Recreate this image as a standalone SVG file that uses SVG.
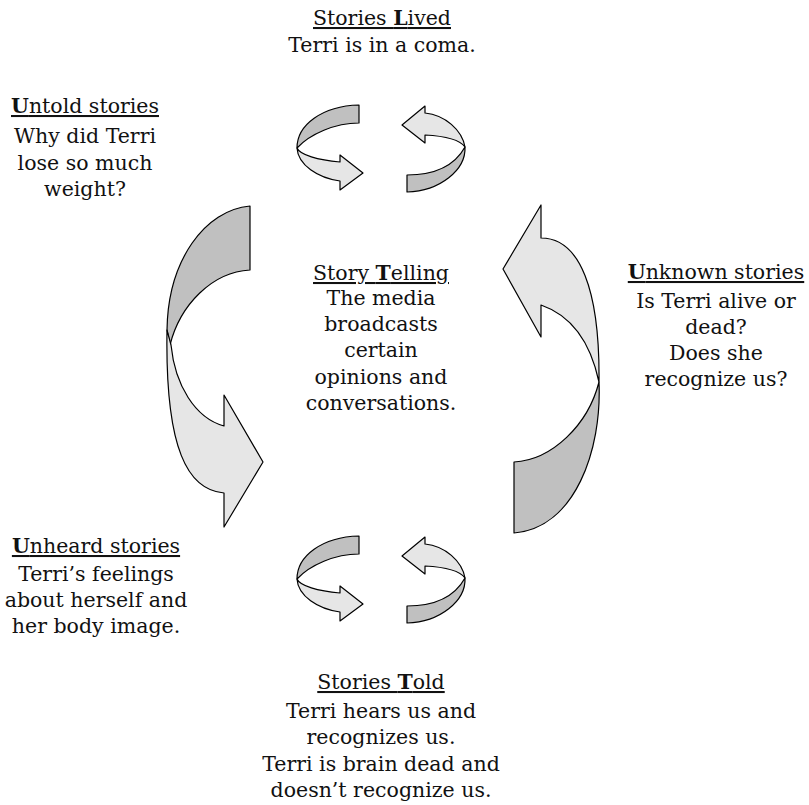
<svg xmlns="http://www.w3.org/2000/svg" width="809" height="805" viewBox="0 0 809 805">
<style>
.dk{fill:#c0c0c0;stroke:#000;stroke-width:1.2;stroke-linejoin:round}
.lt{fill:#e6e6e6;stroke:#000;stroke-width:1.2;stroke-linejoin:round}
text{font-family:"DejaVu Serif","Liberation Serif",serif;font-size:20.5px;fill:#111;text-anchor:middle}
.t{text-decoration:underline}
.b{font-weight:bold}
</style>
<defs>
<g id="pairL">
<path class="dk" d="M359,105 C322,106 297,125 297,148 C310,134 335,123 359,123 Z"/>
<path class="lt" d="M297,148 C298,165 318,178 340,181 L340,190 L363,173 L340,155 L340,162 C318,160 300,155 297,148 Z"/>
</g>
<g id="pairR">
<path class="lt" d="M465,147 C462,130 445,115 425,113 L425,106 L402,125 L425,143 L425,135 C445,136 460,140 465,147 Z"/>
<path class="dk" d="M465,147 C466,170 440,191 407,192 L407,175 C435,175 455,165 465,147 Z"/>
</g>
</defs>
<g id="connectors">
<g id="top-cycle-left"><use href="#pairL"/></g>
<g id="top-cycle-right"><use href="#pairR"/></g>
<g id="bottom-cycle-left"><use href="#pairL" transform="translate(0,431)"/></g>
<g id="bottom-cycle-right"><use href="#pairR" transform="translate(0,431)"/></g>
<g id="left-arrow">
<path class="dk" d="M250,206 C205,210 168,260 167,330 L170,345 C180,305 212,272 250,270 Z"/>
<path class="lt" d="M224,493 C188,490 165,450 167,330 L171,345 C175,385 195,418 224,426 L224,395 L263,462 L224,527 Z"/>
</g>
<g id="right-arrow">
<path class="lt" d="M541,238 C580,238 600,290 599,382 C590,340 570,315 541,305 L541,337 L503,269 L541,205 Z"/>
<path class="dk" d="M599,382 C602,450 575,528 514,533 L514,462 C552,460 588,425 599,382 Z"/>
</g>
</g>
<g id="stories-lived">
<text x="382" y="25" class="t">Stories <tspan class="b">L</tspan>ived</text>
<text x="382" y="52">Terri is in a coma.</text>
</g>
<g id="untold-stories">
<text x="85" y="113" class="t"><tspan class="b">U</tspan>ntold stories</text>
<text x="85" y="143">Why did Terri</text>
<text x="85" y="170">lose so much</text>
<text x="85" y="196">weight?</text>
</g>
<g id="story-telling">
<text x="381" y="280" class="t">Story <tspan class="b">T</tspan>elling</text>
<text x="381" y="305">The media</text>
<text x="381" y="331">broadcasts</text>
<text x="381" y="357">certain</text>
<text x="381" y="384">opinions and</text>
<text x="381" y="410">conversations.</text>
</g>
<g id="unknown-stories">
<text x="716" y="279" class="t"><tspan class="b">U</tspan>nknown stories</text>
<text x="716" y="308">Is Terri alive or</text>
<text x="716" y="334">dead?</text>
<text x="716" y="360">Does she</text>
<text x="716" y="386">recognize us?</text>
</g>
<g id="unheard-stories">
<text x="96" y="553" class="t"><tspan class="b">U</tspan>nheard stories</text>
<text x="96" y="581">Terri’s feelings</text>
<text x="96" y="607">about herself and</text>
<text x="96" y="633">her body image.</text>
</g>
<g id="stories-told">
<text x="381" y="689" class="t">Stories <tspan class="b">T</tspan>old</text>
<text x="381" y="718">Terri hears us and</text>
<text x="381" y="744">recognizes us.</text>
<text x="381" y="771">Terri is brain dead and</text>
<text x="381" y="797">doesn’t recognize us.</text>
</g>
</svg>
